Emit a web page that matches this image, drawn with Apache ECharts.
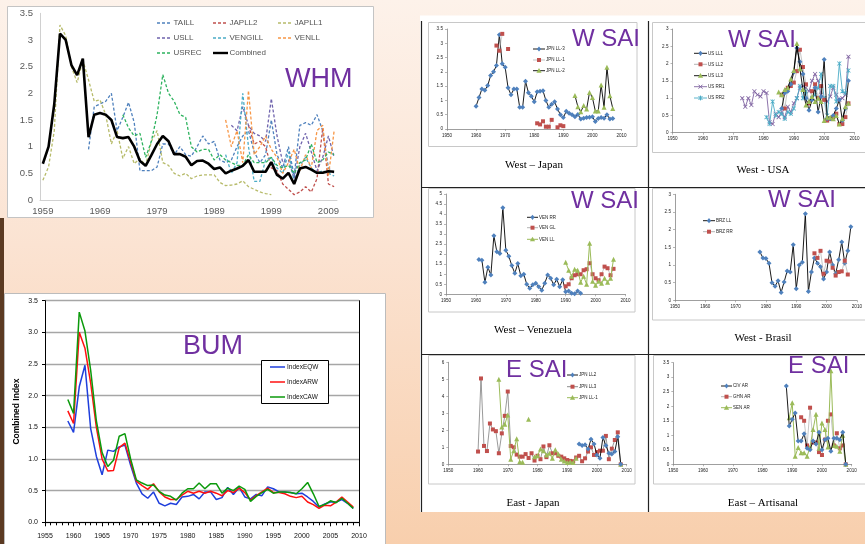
<!DOCTYPE html>
<html>
<head>
<meta charset="utf-8">
<script src="https://cdn.jsdelivr.net/npm/echarts/dist/echarts.min.js"></script>
<style>
html, body { margin: 0; padding: 0; }
#c { width: 865px; height: 544px; background: linear-gradient(180deg, #fdf2ea 0%, #fbe3d2 45%, #f8cfad 100%); }
</style>
</head>
<body>
<div id="c"></div>
<script>
// ---------- WHM panel: yearly indices 1959-2010 ----------
const whmYears = [];
for (let y = 1959; y <= 2010; y++) whmYears.push(String(y));

const whmTAILLFrom = 1967;
const whmTAILL = [0.95,1.75,1.8,1.85,2.0,1.3,1.55,1.83,1.45,0.55,0.55,0.55,0.62,1.05,1.05,0.85,1.0,0.85,0.82,1.0,1.2,1.05,1.1,0.75,0.7,0.75,1.0,1.2,1.3,0.9,0.7,0.85,1.5,0.85,0.6,1.0,0.45,1.4,1.45,1.4,1.6,1.3,0.6,0.5];
const whmJAPLL2From = 1995;
const whmJAPLL2 = [1.4,1.05,1.1,1.0,0.6,0.55,0.3,0.2,0.1,0.15,0.25,0.15,0.4,1.35,0.3,0.25];
const whmJAPLL1From = 1959;
const whmJAPLL1 = [0.37,0.62,1.3,3.28,3.08,2.5,2.2,2.62,2.25,1.85,1.88,1.6,1.05,1.3,0.78,1.0,0.68,0.78,0.65,1.1,1.3,0.7,0.65,0.5,0.45,0.5,0.4,0.45,0.47,0.47,0.47,0.33,0.27,0.28,0.3,0.36,0.25,0.2,0.15,0.12,0.1];
const whmUSLLFrom = 1992;
const whmUSLL = [1.4,1.3,1.75,1.4,1.25,1.2,1.1,1.9,1.2,0.7,0.75,0.4,1.0,1.25,0.9,0.55,0.8,1.2,0.8];
const whmVENGILLFrom = 1991;
const whmVENGILL = [0.85,0.5,0.7,2.0,1.0,0.35,0.35,0.75,0.8,0.6,0.5,0.9,0.35,0.65,0.8,0.6,0.5,0.55,0.5,0.45];
const whmVENLLFrom = 1991;
const whmVENLL = [1.5,1.0,1.3,0.7,2.05,0.85,1.0,1.2,0.95,0.8,0.5,0.7,0.95,0.55,0.85,0.6,1.3,1.4,0.45,1.3];
const whmUSRECFrom = 1973;
const whmUSREC = [1.6,1.35,1.2,1.25,0.8,1.1,1.6,2.35,2.0,1.85,1.6,1.55,1.0,0.9,0.95,0.95,0.75,0.85,0.75,0.7,0.65,0.65,0.85,0.7,0.7,0.7,0.8,0.65,0.6,0.65,0.5,0.7,0.75,1.05,0.7,0.75,0.9,0.85];
const whmCombined = [0.68,1.0,1.8,3.12,3.0,2.53,2.34,2.65,1.18,1.6,1.63,1.6,1.5,1.18,1.16,1.18,1.0,0.73,0.64,0.84,1.05,1.2,1.1,0.86,0.86,0.81,0.65,0.73,0.74,0.68,0.58,0.61,0.5,0.55,0.59,0.64,0.75,0.53,0.53,0.53,0.71,0.47,0.4,0.51,0.3,0.59,0.62,0.57,0.51,0.51,0.54,0.53];

// ---------- BUM panel: 1959-2009 ----------
const bumFrom = 1959;
const bumEQW = [1.6,1.42,2.14,2.48,1.48,1.04,0.75,1.14,1.12,1.19,1.22,0.9,0.62,0.45,0.38,0.48,0.3,0.26,0.3,0.28,0.4,0.41,0.44,0.37,0.48,0.48,0.36,0.39,0.55,0.44,0.55,0.4,0.37,0.44,0.42,0.56,0.53,0.48,0.48,0.47,0.45,0.46,0.4,0.33,0.24,0.29,0.32,0.32,0.36,0.3,0.22];
const bumARW = [1.76,1.56,3.0,2.75,2.2,1.5,1.0,0.81,0.82,1.18,1.25,0.95,0.65,0.58,0.52,0.61,0.48,0.4,0.36,0.36,0.43,0.49,0.46,0.49,0.46,0.49,0.46,0.42,0.5,0.47,0.54,0.47,0.35,0.42,0.48,0.54,0.47,0.47,0.45,0.41,0.39,0.41,0.32,0.28,0.22,0.27,0.26,0.32,0.4,0.32,0.24];
const bumCAW = [1.94,1.72,3.32,3.02,2.4,1.6,1.1,0.88,0.98,1.36,1.4,1.0,0.67,0.62,0.58,0.59,0.49,0.43,0.41,0.35,0.46,0.53,0.53,0.62,0.53,0.61,0.61,0.46,0.54,0.5,0.57,0.52,0.33,0.41,0.47,0.52,0.46,0.48,0.48,0.47,0.45,0.53,0.63,0.45,0.25,0.28,0.34,0.31,0.38,0.3,0.22];

// ---------- West - Japan ----------
const jpnLL3From = 1960;
const jpnLL3 = [0.8,1.1,1.4,1.36,1.52,1.87,2.0,2.22,3.3,2.28,2.16,1.44,1.2,1.4,1.4,0.76,0.76,1.67,1.27,1.15,0.95,1.3,1.32,1.34,1.0,0.76,0.87,0.95,0.7,0.5,0.4,0.62,0.55,0.5,0.43,0.51,0.35,0.38,0.4,0.41,0.43,0.26,0.37,0.4,0.38,0.5,0.35,0.37];
const jpnLL1From = 1967;
const jpnLL1 = [2.92,2.74,3.33,null,2.8,null,null,null,null,null,null,null,null,null,0.2,0.16,0.27,0.08,0.08,0.32,null,0.06,0.13,0.1];
const jpnLL2From = 1994;
const jpnLL2 = [1.17,0.78,0.6,0.82,0.7,1.28,1.1,0.63,0.63,1.54,0.76,2.16,1.16,0.72];

// ---------- West - USA ----------
const usLL1From = 1986;
const usLL1 = [0.7,1.15,1.2,1.4,1.75,2.45,2.05,1.7,1.0,0.65,0.95,1.3,0.6,1.05,2.12,0.4,0.4,0.5,0.7,0.95,0.35,0.7,1.5];
const usLL2From = 1986;
const usLL2 = [1.1,0.7,1.3,1.35,1.45,1.78,2.4,1.9,1.4,0.85,1.2,1.4,1.0,1.35,0.95,0.35,0.4,0.45,0.55,0.25,0.25,0.45,0.85];
const usLL3From = 1985;
const usLL3 = [1.18,1.1,1.25,1.3,1.55,1.8,2.58,1.85,1.25,0.8,0.9,1.05,0.9,1.0,0.9,0.35,0.45,0.45,0.4,0.5,0.25,0.4,0.75,0.85];
const usRR1From = 1973;
const usRR1 = [1.0,0.75,1.0,0.8,1.2,1.1,1.05,1.2,1.15,0.3,0.25,0.55,0.45,0.6,0.45,0.75,0.6,0.85,1.0,1.3,1.35,1.3,1.2,1.5,1.7,1.5,1.1,1.0,0.9,1.05,1.3,1.1,0.95,1.0,1.1,2.2];
const usRR2From = 1981;
const usRR2 = [0.45,0.25,0.9,0.5,0.6,0.55,0.4,0.6,0.55,0.7,1.0,1.35,1.0,1.2,0.85,1.0,1.1,1.3,1.7,1.0,0.5,1.35,1.35,0.9,2.0,1.2,1.15,1.8];

// ---------- West - Venezuela ----------
const venRRFrom = 1961;
const venRR = [1.74,1.7,0.6,1.35,0.96,2.92,2.12,2.03,4.32,2.2,1.9,1.43,1.05,1.53,0.93,1.0,0.5,0.3,0.47,0.55,0.38,0.2,0.55,0.96,0.8,0.47,0.75,0.38,0.72,0.13,0.16,0.05,0.03,0.16,0.05];
const venGLFrom = 1990;
const venGL = [0.4,0.5,0.8,0.95,1.0,1.0,1.2,1.25,1.55,1.0,0.8,0.7,1.0,1.38,1.3,0.95,1.27];
const venLLFrom = 1990;
const venLL = [1.6,1.2,0.9,1.25,1.2,0.6,0.9,0.5,2.55,0.65,0.45,0.65,0.55,0.8,0.6,0.8,1.75];

// ---------- West - Brasil ----------
const brzLLFrom = 1978;
const brzLL = [1.37,1.2,1.18,1.05,0.5,0.4,0.55,0.22,0.52,0.83,0.8,1.57,0.33,1.0,1.08,2.45,0.25,0.8,1.2,1.05,0.95,0.6,0.8,1.37,1.0,0.75,1.15,1.65,1.05,1.4,2.08];
const brzRRFrom = 1996;
const brzRR = [1.33,1.2,1.4,0.75,1.12,1.1,0.92,0.7,0.8,0.82,1.12,0.73];

// ---------- East - Japan ----------
const ejpnLL2From = 1994;
const ejpnLL2 = [1.2,1.1,1.15,0.9,1.47,1.2,0.55,0.35,1.58,1.1,0.65,0.6,0.75,1.62,0.0];
const ejpnLL3From = 1960;
const ejpnLL3 = [0.75,5.05,1.08,0.78,2.4,2.05,1.95,0.65,1.82,2.85,4.28,1.08,1.0,0.57,0.45,0.45,0.6,0.37,0.65,0.22,0.5,0.3,1.05,0.42,1.12,0.65,0.65,0.5,0.45,0.35,0.25,0.2,0.18,0.4,0.5,0.18,0.35,0.75,1.0,0.55,0.72,0.8,0.8,1.67,0.3,0.92,1.43,1.88,0.0];
const ejpnLL1From = 1967;
const ejpnLL1 = [5.0,2.2,2.35,2.9,0.3,0.8,1.5,0.15,0.12,null,2.65,null,0.45,0.5,0.9,0.8,0.55,0.65,0.35,0.85,0.6,0.3,0.2,0.1,0.15,0.1,0.35,null,null,null,null,null,null,null,null,null,null,null,null,null,null,0.0];

// ---------- East - Artisanal ----------
const civARFrom = 1988;
const civAR = [2.7,1.32,1.55,1.77,0.8,0.8,1.05,0.55,0.5,0.8,0.7,1.1,0.5,0.85,0.9,0.45,0.9,0.9,0.85,1.1,0.0];
const ghnARFrom = 1993;
const ghnAR = [1.62,1.5,0.65,1.95,0.75,0.75,0.42,0.32,0.85,1.5,1.72,0.65,1.07,0.55,0.65,0.0];
const senARFrom = 1989;
const senAR = [1.6,2.12,0.28,0.58,0.4,0.4,0.28,0.6,1.2,1.72,0.55,1.42,1.2,0.6,3.22,0.65,0.62,0.45,1.0,0.0];

// ---------- helpers ----------
const SANS = "'Liberation Sans', Arial, sans-serif";
const SERIF = "'Liberation Serif', 'Times New Roman', serif";
const BLUE = '#4f81bd', RED = '#c0504d', GREEN = '#9bbb59', PURPLE = '#8064a2', CYAN = '#4bacc6';
const TITLE_PURPLE = '#7030a0';

// [year, value] pairs for value-type x axes; '-' leaves a gap in the line
function pts(from, values) {
  return values.map((v, i) => [from + i, v == null ? '-' : v]);
}
// values aligned to the WHM category axis
function align(from, values) {
  const out = whmYears.map(() => null);
  values.forEach((v, i) => { out[from - 1959 + i] = v; });
  return out;
}

const SYM_X = 'path://M0,1.2L1.2,0L5,3.8L8.8,0L10,1.2L6.2,5L10,8.8L8.8,10L5,6.2L1.2,10L0,8.8L3.8,5Z';
const SYM_STAR = 'path://M0,1.2L1.2,0L5,3.8L8.8,0L10,1.2L6.2,5L10,8.8L8.8,10L5,6.2L1.2,10L0,8.8L3.8,5ZM4.4,0L5.6,0L5.6,10L4.4,10Z';

const grids = [], xAxes = [], yAxes = [], series = [], elements = [];

// ---------- WHM ----------
grids.push({ left: 40, top: 13.3, width: 297, height: 186.7 });
xAxes.push({
  gridIndex: 0, type: 'category', data: whmYears, boundaryGap: true,
  axisLine: { lineStyle: { color: '#d0d0d0', width: 1 } },
  axisTick: { interval: 0, length: 3, lineStyle: { color: '#d0d0d0' } },
  axisLabel: { interval: 9, fontSize: 9.5, color: '#595959', margin: 6, fontFamily: SANS }
});
yAxes.push({
  gridIndex: 0, type: 'value', min: 0, max: 3.5, interval: 0.5,
  axisLine: { show: true, lineStyle: { color: '#d0d0d0' } },
  axisTick: { show: false },
  axisLabel: { fontSize: 9.5, color: '#595959', margin: 7, fontFamily: SANS },
  splitLine: { show: false }
});
const whmDefs = [
  { name: 'TAILL', color: '#4f81bd', from: whmTAILLFrom, values: whmTAILL },
  { name: 'JAPLL2', color: '#c0504d', from: whmJAPLL2From, values: whmJAPLL2 },
  { name: 'JAPLL1', color: '#b7bb6a', from: whmJAPLL1From, values: whmJAPLL1 },
  { name: 'USLL', color: '#6f63ad', from: whmUSLLFrom, values: whmUSLL },
  { name: 'VENGILL', color: '#4bacc6', from: whmVENGILLFrom, values: whmVENGILL },
  { name: 'VENLL', color: '#f79646', from: whmVENLLFrom, values: whmVENLL },
  { name: 'USREC', color: '#2eb35f', from: whmUSRECFrom, values: whmUSREC },
  { name: 'Combined', color: '#000000', from: 1959, values: whmCombined, solid: true }
];
whmDefs.forEach(d => {
  series.push({
    type: 'line', name: d.name, xAxisIndex: 0, yAxisIndex: 0,
    data: align(d.from, d.values), showSymbol: false, symbol: 'none',
    lineStyle: d.solid ? { color: d.color, width: 2.6 } : { color: d.color, width: 1.3, type: [3, 2] },
    z: d.solid ? 4 : 2
  });
});

// ---------- BUM ----------
grids.push({ left: 45, top: 300.7, width: 314, height: 221.6, show: true, backgroundColor: '#ffffff', borderWidth: 0 });
xAxes.push({
  gridIndex: 1, type: 'value', min: 1955, max: 2010, interval: 5,
  axisLine: { lineStyle: { color: '#000', width: 1 } },
  axisTick: { length: 4, lineStyle: { color: '#000' } },
  minorTick: { show: true, splitNumber: 5, length: 3, lineStyle: { color: '#000' } },
  axisLabel: { fontSize: 7, color: '#111', margin: 10, fontFamily: SANS, formatter: v => String(v) },
  splitLine: { show: false }
});
yAxes.push({
  gridIndex: 1, type: 'value', min: 0, max: 3.5, interval: 0.5,
  name: 'Combined Index', nameLocation: 'middle', nameGap: 24, nameRotate: 90,
  nameTextStyle: { fontSize: 8.5, fontWeight: 'bold', color: '#000', fontFamily: SANS },
  axisLine: { show: true, lineStyle: { color: '#000', width: 1 } },
  axisTick: { show: true, length: 3, lineStyle: { color: '#000' } },
  axisLabel: { fontSize: 7, color: '#111', margin: 7, fontFamily: SANS, formatter: v => v.toFixed(1) },
  splitLine: { show: true, lineStyle: { color: '#a6a6a6', width: 1.4 } }
});
const bumDefs = [
  { name: 'IndexEQW', color: '#1f3fdc', values: bumEQW },
  { name: 'IndexARW', color: '#ff1010', values: bumARW },
  { name: 'IndexCAW', color: '#0b9a0b', values: bumCAW }
];
bumDefs.forEach(d => {
  series.push({
    type: 'line', name: d.name, xAxisIndex: 1, yAxisIndex: 1,
    data: pts(bumFrom, d.values), showSymbol: false, symbol: 'none',
    lineStyle: { color: d.color, width: 1.5 }
  });
});

// ---------- six small SAI charts ----------
const smallCharts = [
  { grid: { left: 447, top: 29, width: 174.5, height: 100 }, max: 3.5, interval: 0.5, lines: [
    { name: 'JPN LL-3', from: jpnLL3From, values: jpnLL3, symbol: 'diamond', size: 5, color: BLUE, line: '#000', lw: 0.9 },
    { name: 'JPN LL-1', from: jpnLL1From, values: jpnLL1, symbol: 'rect', size: 4, color: RED, line: '#b4b4b4', lw: 0.6 },
    { name: 'JPN LL-2', from: jpnLL2From, values: jpnLL2, symbol: 'triangle', size: 5, color: GREEN, line: '#000', lw: 0.9 }
  ], legend: { x1: 533, x2: 545, ys: [49, 60, 70.7] } },
  { grid: { left: 672.5, top: 29, width: 182, height: 103.7 }, max: 3, interval: 0.5, lines: [
    { name: 'US RR1', from: usRR1From, values: usRR1, symbol: SYM_X, size: 4.5, color: PURPLE, line: PURPLE, lw: 0.9, legendAt: 3 },
    { name: 'US RR2', from: usRR2From, values: usRR2, symbol: SYM_STAR, size: 4.5, color: CYAN, line: CYAN, lw: 0.9, legendAt: 4 },
    { name: 'US LL2', from: usLL2From, values: usLL2, symbol: 'rect', size: 4, color: RED, line: '#a0a0a0', lw: 0.6, legendAt: 1 },
    { name: 'US LL1', from: usLL1From, values: usLL1, symbol: 'diamond', size: 5, color: BLUE, line: '#000', lw: 0.9, legendAt: 0 },
    { name: 'US LL3', from: usLL3From, values: usLL3, symbol: 'triangle', size: 5, color: GREEN, line: '#000', lw: 0.9, legendAt: 2 }
  ], legend: { x1: 694, x2: 707, ys: [53.3, 64.3, 75.7, 86.7, 98] } },
  { grid: { left: 446, top: 194, width: 179.5, height: 100.3 }, max: 5, interval: 0.5, lines: [
    { name: 'VEN RR', from: venRRFrom, values: venRR, symbol: 'diamond', size: 5, color: BLUE, line: '#000', lw: 0.9 },
    { name: 'VEN GL', from: venGLFrom, values: venGL, symbol: 'rect', size: 4, color: RED, line: '#a0a0a0', lw: 0.6 },
    { name: 'VEN LL', from: venLLFrom, values: venLL, symbol: 'triangle', size: 5, color: GREEN, line: GREEN, lw: 1 }
  ], legend: { x1: 527, x2: 538, ys: [217.3, 227.7, 239.3] } },
  { grid: { left: 675, top: 194.3, width: 183, height: 106 }, max: 3, interval: 0.5, lines: [
    { name: 'BRZ LL', from: brzLLFrom, values: brzLL, symbol: 'diamond', size: 5, color: BLUE, line: '#000', lw: 0.9 },
    { name: 'BRZ RR', from: brzRRFrom, values: brzRR, symbol: 'rect', size: 4, color: RED, line: '#a0a0a0', lw: 0.6 }
  ], legend: { x1: 703, x2: 715, ys: [220.7, 231.7] } },
  { grid: { left: 448.3, top: 362.3, width: 178.4, height: 102 }, max: 6, interval: 1, lines: [
    { name: 'JPN LL3', from: ejpnLL3From, values: ejpnLL3, symbol: 'rect', size: 4, color: RED, line: '#6e6e6e', lw: 0.7, legendAt: 1 },
    { name: 'JPN LL-1', from: ejpnLL1From, values: ejpnLL1, symbol: 'triangle', size: 5, color: GREEN, line: GREEN, lw: 1, legendAt: 2 },
    { name: 'JPN LL2', from: ejpnLL2From, values: ejpnLL2, symbol: 'diamond', size: 5, color: BLUE, line: '#000', lw: 0.9, legendAt: 0 }
  ], legend: { x1: 567, x2: 578, ys: [375, 386.7, 397.7] } },
  { grid: { left: 673.3, top: 362.7, width: 178.4, height: 101.6 }, max: 3.5, interval: 0.5, lines: [
    { name: 'GHN AR', from: ghnARFrom, values: ghnAR, symbol: 'rect', size: 4, color: RED, line: '#a0a0a0', lw: 0.6, legendAt: 1 },
    { name: 'SEN AR', from: senARFrom, values: senAR, symbol: 'triangle', size: 5, color: GREEN, line: GREEN, lw: 1, legendAt: 2 },
    { name: 'CIV AR', from: civARFrom, values: civAR, symbol: 'diamond', size: 5, color: BLUE, line: '#000', lw: 0.9, legendAt: 0 }
  ], legend: { x1: 721, x2: 732, ys: [386, 396.7, 407.7] } }
];

function legendMarker(sym, cx, cy, color) {
  if (sym === 'rect') return { type: 'rect', z: 6, shape: { x: cx - 2, y: cy - 2, width: 4, height: 4 }, style: { fill: color } };
  if (sym === 'diamond') return { type: 'polygon', z: 6, shape: { points: [[cx, cy - 2.6], [cx + 2.1, cy], [cx, cy + 2.6], [cx - 2.1, cy]] }, style: { fill: color } };
  if (sym === 'triangle') return { type: 'polygon', z: 6, shape: { points: [[cx, cy - 2.6], [cx + 2.6, cy + 2], [cx - 2.6, cy + 2]] }, style: { fill: color } };
  const g = { type: 'group', z: 6, children: [
    { type: 'line', z: 6, shape: { x1: cx - 2, y1: cy - 2, x2: cx + 2, y2: cy + 2 }, style: { stroke: color, lineWidth: 1 } },
    { type: 'line', z: 6, shape: { x1: cx - 2, y1: cy + 2, x2: cx + 2, y2: cy - 2 }, style: { stroke: color, lineWidth: 1 } }
  ] };
  if (sym === SYM_STAR) g.children.push({ type: 'line', z: 6, shape: { x1: cx, y1: cy - 2.4, x2: cx, y2: cy + 2.4 }, style: { stroke: color, lineWidth: 1 } });
  return g;
}

smallCharts.forEach((c, k) => {
  const gi = k + 2;
  grids.push(c.grid);
  xAxes.push({
    gridIndex: gi, type: 'value', min: 1950, max: 2010, interval: 10,
    axisLine: { lineStyle: { color: '#868686', width: 0.8 } },
    axisTick: { length: 2, lineStyle: { color: '#868686', width: 0.6 } },
    axisLabel: { fontSize: 4.6, color: '#222', margin: 4, fontFamily: SANS, formatter: v => String(v) },
    splitLine: { show: false }
  });
  yAxes.push({
    gridIndex: gi, type: 'value', min: 0, max: c.max, interval: c.interval,
    axisLine: { show: true, lineStyle: { color: '#868686', width: 0.8 } },
    axisTick: { show: true, length: 2, lineStyle: { color: '#868686', width: 0.6 } },
    axisLabel: { fontSize: 4.6, color: '#222', margin: 4, fontFamily: SANS },
    splitLine: { show: false }
  });
  c.lines.forEach((l, i) => {
    series.push({
      type: 'line', name: l.name, xAxisIndex: gi, yAxisIndex: gi,
      data: pts(l.from, l.values), symbol: l.symbol, symbolSize: l.size, showSymbol: true,
      itemStyle: { color: l.color }, lineStyle: { color: l.line, width: l.lw }, z: 2 + i
    });
    const row = l.legendAt == null ? i : l.legendAt;
    const y = c.legend.ys[row], x1 = c.legend.x1, x2 = c.legend.x2;
    elements.push({ type: 'line', z: 6, shape: { x1: x1, y1: y, x2: x2, y2: y }, style: { stroke: l.line, lineWidth: Math.max(l.lw, 0.8) } });
    elements.push(legendMarker(l.symbol, (x1 + x2) / 2, y, l.color));
    elements.push({ type: 'text', z: 6, style: { x: x2 + 1, y: y, text: l.name, font: '4.5px ' + SANS, fill: '#222', verticalAlign: 'middle' } });
  });
});

// BUM right-hand frame
yAxes.push({
  gridIndex: 1, type: 'value', min: 0, max: 3.5, position: 'right',
  axisLine: { show: true, lineStyle: { color: '#000', width: 1 } },
  axisTick: { show: false }, axisLabel: { show: false }, splitLine: { show: false }
});

// ---------- panel backgrounds ----------
const backs = [
  { type: 'rect', z: -5, shape: { x: 0, y: 218, width: 4, height: 326 }, style: { fill: '#5b3a22' } },
  { type: 'rect', z: -5, shape: { x: 7.5, y: 6.5, width: 366, height: 211 }, style: { fill: '#ffffff', stroke: '#c4c4c4', lineWidth: 1 } },
  { type: 'rect', z: -5, shape: { x: 4.5, y: 293.5, width: 381, height: 260 }, style: { fill: '#ffffff', stroke: '#bcbcbc', lineWidth: 1 } },
  { type: 'rect', z: -5, shape: { x: 420, y: 15.5, width: 450, height: 496.5 }, style: { fill: '#ffffff' } },
  { type: 'line', z: -4, shape: { x1: 421.5, y1: 21, x2: 421.5, y2: 512 }, style: { stroke: '#222', lineWidth: 1.2 } },
  { type: 'line', z: -4, shape: { x1: 648.5, y1: 21, x2: 648.5, y2: 512 }, style: { stroke: '#222', lineWidth: 1.2 } },
  { type: 'line', z: -4, shape: { x1: 421, y1: 187.5, x2: 865, y2: 187.5 }, style: { stroke: '#222', lineWidth: 1.2 } },
  { type: 'line', z: -4, shape: { x1: 421, y1: 354.5, x2: 865, y2: 354.5 }, style: { stroke: '#222', lineWidth: 1.2 } }
];
const boxes = [[428.5, 22.5, 208.5, 124], [652.5, 22.5, 215, 130], [428.5, 188.5, 206.5, 123.5], [652.5, 188.5, 215, 131.5], [428.5, 355.5, 206.5, 128.5], [653.5, 355.5, 214, 128.5]];
boxes.forEach(b => backs.push({ type: 'rect', z: -4, shape: { x: b[0], y: b[1], width: b[2], height: b[3] }, style: { fill: 'none', stroke: '#c8c8c8', lineWidth: 1 } }));

// captions under each small chart
const captions = [['West \u2013 Japan', 534, 165], ['West - USA', 763, 170], ['West \u2013 Venezuela', 533, 330], ['West - Brasil', 763, 338], ['East - Japan', 533, 503], ['East \u2013 Artisanal', 763, 503]];
captions.forEach(c => elements.push({ type: 'text', z: 6, style: { x: c[1], y: c[2], text: c[0], font: '11px ' + SERIF, fill: '#000', align: 'center', verticalAlign: 'middle' } }));

// group labels
const groupTitles = [['WHM', 285, 80, 27], ['BUM', 183, 347, 27], ['W SAI', 572, 39, 24], ['W SAI', 728, 40.7, 24], ['W SAI', 571, 201, 24], ['W SAI', 768, 200, 24], ['E SAI', 506, 370.7, 24], ['E SAI', 788, 366.7, 24]];
groupTitles.forEach(t => elements.push({ type: 'text', z: 5, style: { x: t[1], y: t[2], text: t[0], font: t[3] + 'px ' + SANS, fill: TITLE_PURPLE, verticalAlign: 'middle' } }));

// WHM legend (three columns)
const whmCols = [157, 213, 278], whmRows = [23, 38, 53];
whmDefs.forEach((d, i) => {
  const x = whmCols[i % 3], y = whmRows[Math.floor(i / 3)];
  elements.push({ type: 'line', z: 6, shape: { x1: x, y1: y, x2: x + 15, y2: y }, style: d.solid ? { stroke: d.color, lineWidth: 2.4 } : { stroke: d.color, lineWidth: 1.3, lineDash: [3, 2] } });
  elements.push({ type: 'text', z: 6, style: { x: x + 16.5, y: y, text: d.name, font: '8px ' + SANS, fill: '#555', verticalAlign: 'middle' } });
});

// BUM legend box
elements.push({ type: 'rect', z: 5, shape: { x: 261.5, y: 360.5, width: 67, height: 43 }, style: { fill: '#ffffff', stroke: '#000', lineWidth: 1 } });
bumDefs.forEach((d, i) => {
  const y = 367 + i * 15;
  elements.push({ type: 'line', z: 6, shape: { x1: 270, y1: y, x2: 285, y2: y }, style: { stroke: d.color, lineWidth: 1.5 } });
  elements.push({ type: 'text', z: 6, style: { x: 287, y: y, text: d.name, font: '6.5px ' + SANS, fill: '#111', verticalAlign: 'middle' } });
});

const chart = echarts.init(document.getElementById('c'), null, { renderer: 'canvas' });
chart.setOption({
  animation: false,
  grid: grids,
  xAxis: xAxes,
  yAxis: yAxes,
  series: series,
  graphic: { elements: backs.concat(elements) }
});
</script>
</body>
</html>
